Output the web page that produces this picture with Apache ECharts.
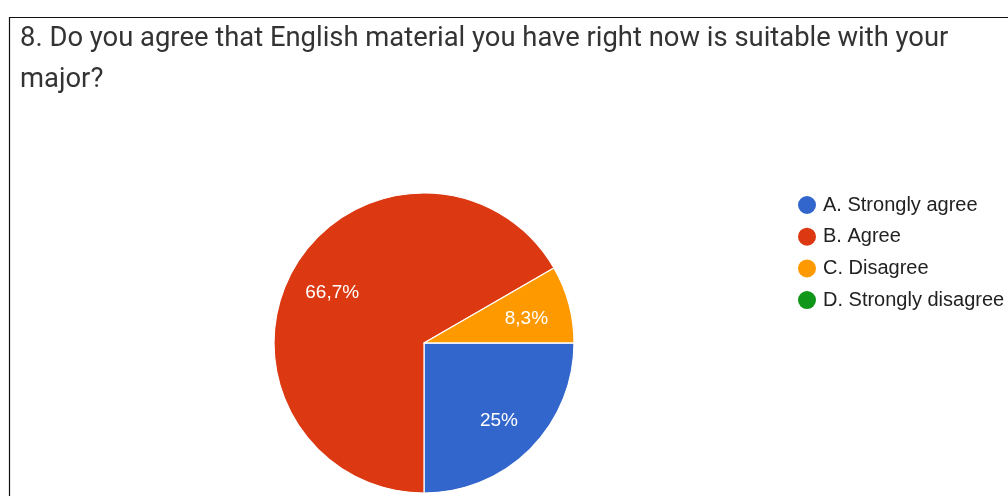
<!DOCTYPE html>
<html>
<head>
<meta charset="utf-8">
<style>
  html, body { margin: 0; padding: 0; background: #fff; }
  #chart { width: 1008px; height: 496px; }
</style>
<script src="https://cdn.jsdelivr.net/npm/echarts@6/dist/echarts.min.js"></script>
</head>
<body>
<div id="chart"></div>
<script>
// Survey question 8: answer counts per option
const questionTitle = '8. Do you agree that English material you have right now is suitable with your\nmajor?';
const answerLabels = ['A. Strongly agree', 'B. Agree', 'C. Disagree', 'D. Strongly disagree'];
const answerCounts = [3, 8, 1, 0];
const answerColors = ['#3366cc', '#dc3912', '#ff9900', '#109618'];

const pieData = answerLabels.map((name, i) => ({ name, value: answerCounts[i] }));

// Percent text with a decimal comma; empty slices get no label
const pctLabel = p => (p.value > 0 ? String(p.percent).replace('.', ',') + '%' : '');

const sansFont = '"Liberation Sans", Arial, sans-serif';

const chart = echarts.init(document.getElementById('chart'), null, { renderer: 'canvas' });
chart.setOption({
  animation: false,
  color: answerColors,
  title: {
    text: questionTitle,
    left: 15,
    top: 13.5,
    textStyle: {
      fontFamily: 'Roboto, Arial, sans-serif',
      fontSize: 27.4,
      fontWeight: 'normal',
      color: '#333333',
      lineHeight: 41
    }
  },
  legend: {
    orient: 'vertical',
    left: 791,
    top: 189,
    icon: 'circle',
    itemWidth: 20,
    itemHeight: 20,
    itemGap: 9.7,
    selectedMode: false,
    data: answerLabels,
    textStyle: {
      fontFamily: sansFont,
      fontSize: 20,
      lineHeight: 20,
      color: '#222222',
      padding: [0, 0, 0, 1]
    }
  },
  graphic: [{
    type: 'polyline',
    silent: true,
    shape: { points: [[9.5, 496], [9.5, 17.5], [1008, 17.5]] },
    style: { stroke: '#111', lineWidth: 1.2, fill: null }
  }],
  series: [
    {
      // filled slices
      type: 'pie',
      center: [424, 343],
      radius: 150,
      startAngle: 0,
      clockwise: true,
      percentPrecision: 1,
      silent: true,
      data: pieData,
      itemStyle: { borderColor: '#ffffff', borderWidth: 1.2 },
      label: { show: false },
      labelLine: { show: false }
    },
    {
      // transparent ring carrying the percent labels
      type: 'pie',
      center: [424, 343],
      radius: [56, 150],
      startAngle: 0,
      clockwise: true,
      percentPrecision: 1,
      silent: true,
      data: pieData,
      itemStyle: { color: 'rgba(0,0,0,0)', borderWidth: 0 },
      label: {
        show: true,
        position: 'inside',
        formatter: pctLabel,
        color: '#ffffff',
        fontFamily: sansFont,
        fontSize: 19,
        offset: [0, 3]
      },
      labelLine: { show: false }
    }
  ]
});
</script>
</body>
</html>
